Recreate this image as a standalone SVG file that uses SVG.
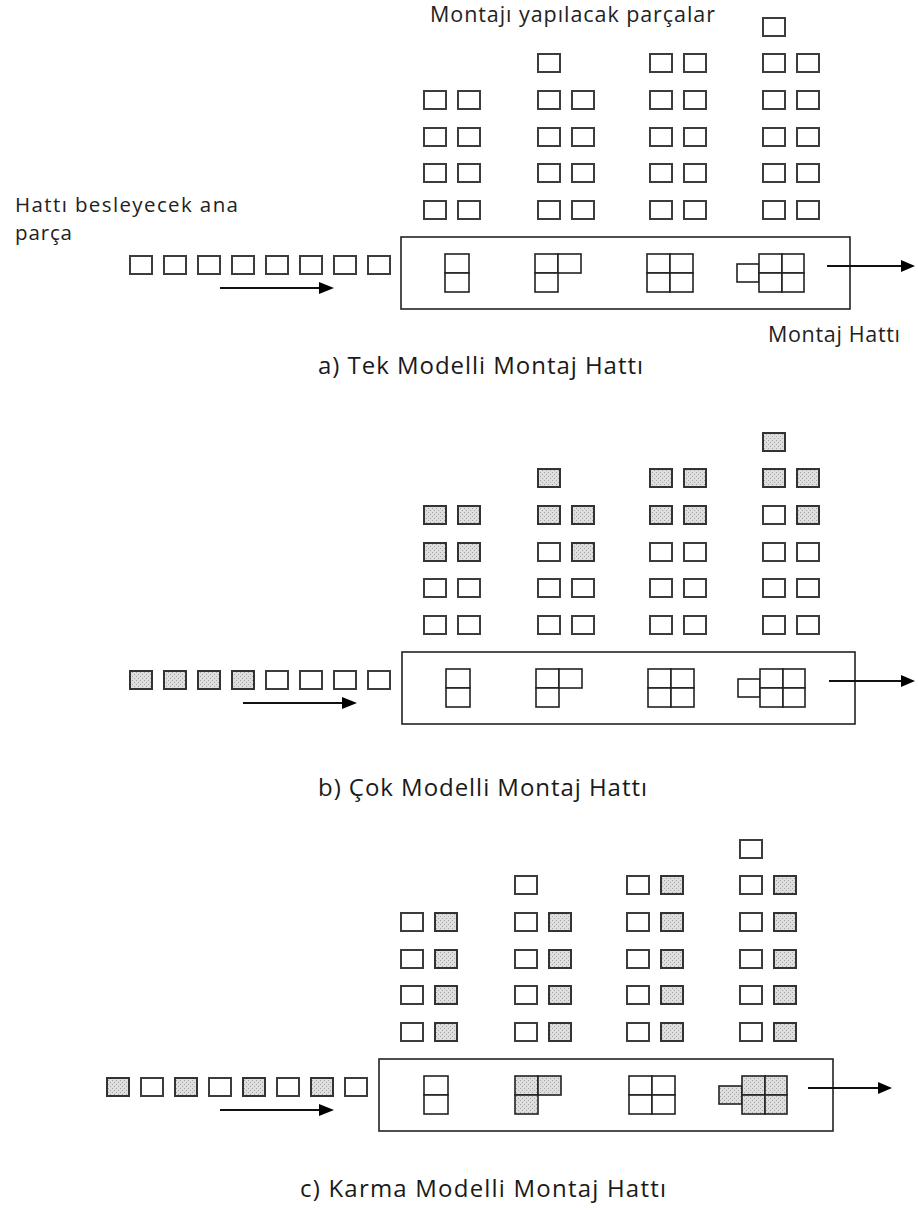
<svg xmlns="http://www.w3.org/2000/svg" width="918" height="1211" viewBox="0 0 918 1211">
<defs>
<pattern id="dots" width="4" height="4" patternUnits="userSpaceOnUse">
<rect width="4" height="4" fill="#dedede"/>
<rect x="0" y="0" width="1" height="1" fill="#a6a6a6"/>
<rect x="2" y="2" width="1" height="1" fill="#a6a6a6"/>
</pattern>
<style>
.w{fill:#fff;stroke:#3c3c3c;stroke-width:2}
.g{fill:url(#dots);stroke:#333;stroke-width:2}
.sw{fill:#fff;stroke:#222;stroke-width:1.6}
.sg{fill:url(#dots);stroke:#222;stroke-width:1.6}
.box{fill:none;stroke:#222;stroke-width:1.6}
.ln{stroke:#111;stroke-width:2;fill:none}
.hd{fill:#000}
.lbl{font-family:"Open Sans","DejaVu Sans",sans-serif;font-size:21.5px;fill:#222}
.lbl2{font-family:"Open Sans","DejaVu Sans",sans-serif;font-size:20.5px;fill:#222}
.cap{font-family:"Open Sans","DejaVu Sans",sans-serif;font-size:24px;fill:#1a1a1a}
</style>
</defs>
<rect width="918" height="1211" fill="#fff"/>

<!-- ===== Section a ===== -->
<g id="a-parts">
<g id="a-col1">
<rect class="w" x="424" y="201" width="22" height="18"/><rect class="w" x="458" y="201" width="22" height="18"/>
<rect class="w" x="424" y="164" width="22" height="18"/><rect class="w" x="458" y="164" width="22" height="18"/>
<rect class="w" x="424" y="128" width="22" height="18"/><rect class="w" x="458" y="128" width="22" height="18"/>
<rect class="w" x="424" y="91" width="22" height="18"/><rect class="w" x="458" y="91" width="22" height="18"/>
</g>
<g id="a-col2">
<rect class="w" x="538" y="201" width="22" height="18"/><rect class="w" x="572" y="201" width="22" height="18"/>
<rect class="w" x="538" y="164" width="22" height="18"/><rect class="w" x="572" y="164" width="22" height="18"/>
<rect class="w" x="538" y="128" width="22" height="18"/><rect class="w" x="572" y="128" width="22" height="18"/>
<rect class="w" x="538" y="91" width="22" height="18"/><rect class="w" x="572" y="91" width="22" height="18"/>
<rect class="w" x="538" y="54" width="22" height="18"/>
</g>
<g id="a-col3">
<rect class="w" x="650" y="201" width="22" height="18"/><rect class="w" x="684" y="201" width="22" height="18"/>
<rect class="w" x="650" y="164" width="22" height="18"/><rect class="w" x="684" y="164" width="22" height="18"/>
<rect class="w" x="650" y="128" width="22" height="18"/><rect class="w" x="684" y="128" width="22" height="18"/>
<rect class="w" x="650" y="91" width="22" height="18"/><rect class="w" x="684" y="91" width="22" height="18"/>
<rect class="w" x="650" y="54" width="22" height="18"/><rect class="w" x="684" y="54" width="22" height="18"/>
</g>
<g id="a-col4">
<rect class="w" x="763" y="201" width="22" height="18"/><rect class="w" x="797" y="201" width="22" height="18"/>
<rect class="w" x="763" y="164" width="22" height="18"/><rect class="w" x="797" y="164" width="22" height="18"/>
<rect class="w" x="763" y="128" width="22" height="18"/><rect class="w" x="797" y="128" width="22" height="18"/>
<rect class="w" x="763" y="91" width="22" height="18"/><rect class="w" x="797" y="91" width="22" height="18"/>
<rect class="w" x="763" y="54" width="22" height="18"/><rect class="w" x="797" y="54" width="22" height="18"/>
<rect class="w" x="763" y="18" width="22" height="18"/>
</g>
</g>
<g id="a-feed">
<rect class="w" x="130" y="256" width="22" height="18"/><rect class="w" x="164" y="256" width="22" height="18"/>
<rect class="w" x="198" y="256" width="22" height="18"/><rect class="w" x="232" y="256" width="22" height="18"/>
<rect class="w" x="266" y="256" width="22" height="18"/><rect class="w" x="300" y="256" width="22" height="18"/>
<rect class="w" x="334" y="256" width="22" height="18"/><rect class="w" x="368" y="256" width="22" height="18"/>
</g>
<g id="a-line">
<rect class="box" x="401" y="237" width="449" height="72"/>
<g id="a-s1"><rect class="sw" x="445" y="254" width="24" height="19"/><rect class="sw" x="445" y="273" width="24" height="19"/></g>
<g id="a-s2"><rect class="sw" x="535" y="254" width="23" height="19"/><rect class="sw" x="558" y="254" width="23" height="19"/><rect class="sw" x="535" y="273" width="23" height="19"/></g>
<g id="a-s3"><rect class="sw" x="647" y="254" width="23" height="19"/><rect class="sw" x="670" y="254" width="23" height="19"/><rect class="sw" x="647" y="273" width="23" height="19"/><rect class="sw" x="670" y="273" width="23" height="19"/></g>
<g id="a-s4"><rect class="sw" x="737" y="264" width="22" height="18"/><rect class="sw" x="759" y="254" width="23" height="19"/><rect class="sw" x="782" y="254" width="22" height="19"/><rect class="sw" x="759" y="273" width="23" height="19"/><rect class="sw" x="782" y="273" width="22" height="19"/></g>
</g>
<g id="a-labels">
<text class="lbl" x="430" y="22" textLength="285">Montajı yapılacak parçalar</text>
<text class="lbl2"><tspan x="15" y="212" textLength="223">Hattı besleyecek ana</tspan><tspan x="15" y="240" textLength="57">parça</tspan></text>
<text class="lbl" x="768" y="342" textLength="132">Montaj Hattı</text>
<text class="cap" x="318" y="374" textLength="325">a) Tek Modelli Montaj Hattı</text>
</g>

<!-- ===== Section b ===== -->
<g id="b-parts">
<g id="b-col1">
<rect class="w" x="424" y="616" width="22" height="18"/><rect class="w" x="458" y="616" width="22" height="18"/>
<rect class="w" x="424" y="579" width="22" height="18"/><rect class="w" x="458" y="579" width="22" height="18"/>
<rect class="g" x="424" y="543" width="22" height="18"/><rect class="g" x="458" y="543" width="22" height="18"/>
<rect class="g" x="424" y="506" width="22" height="18"/><rect class="g" x="458" y="506" width="22" height="18"/>
</g>
<g id="b-col2">
<rect class="w" x="538" y="616" width="22" height="18"/><rect class="w" x="572" y="616" width="22" height="18"/>
<rect class="w" x="538" y="579" width="22" height="18"/><rect class="w" x="572" y="579" width="22" height="18"/>
<rect class="w" x="538" y="543" width="22" height="18"/><rect class="g" x="572" y="543" width="22" height="18"/>
<rect class="g" x="538" y="506" width="22" height="18"/><rect class="g" x="572" y="506" width="22" height="18"/>
<rect class="g" x="538" y="469" width="22" height="18"/>
</g>
<g id="b-col3">
<rect class="w" x="650" y="616" width="22" height="18"/><rect class="w" x="684" y="616" width="22" height="18"/>
<rect class="w" x="650" y="579" width="22" height="18"/><rect class="w" x="684" y="579" width="22" height="18"/>
<rect class="w" x="650" y="543" width="22" height="18"/><rect class="w" x="684" y="543" width="22" height="18"/>
<rect class="g" x="650" y="506" width="22" height="18"/><rect class="g" x="684" y="506" width="22" height="18"/>
<rect class="g" x="650" y="469" width="22" height="18"/><rect class="g" x="684" y="469" width="22" height="18"/>
</g>
<g id="b-col4">
<rect class="w" x="763" y="616" width="22" height="18"/><rect class="w" x="797" y="616" width="22" height="18"/>
<rect class="w" x="763" y="579" width="22" height="18"/><rect class="w" x="797" y="579" width="22" height="18"/>
<rect class="w" x="763" y="543" width="22" height="18"/><rect class="w" x="797" y="543" width="22" height="18"/>
<rect class="w" x="763" y="506" width="22" height="18"/><rect class="g" x="797" y="506" width="22" height="18"/>
<rect class="g" x="763" y="469" width="22" height="18"/><rect class="g" x="797" y="469" width="22" height="18"/>
<rect class="g" x="763" y="433" width="22" height="18"/>
</g>
</g>
<g id="b-feed">
<rect class="g" x="130" y="671" width="22" height="18"/><rect class="g" x="164" y="671" width="22" height="18"/>
<rect class="g" x="198" y="671" width="22" height="18"/><rect class="g" x="232" y="671" width="22" height="18"/>
<rect class="w" x="266" y="671" width="22" height="18"/><rect class="w" x="300" y="671" width="22" height="18"/>
<rect class="w" x="334" y="671" width="22" height="18"/><rect class="w" x="368" y="671" width="22" height="18"/>
</g>
<g id="b-line">
<rect class="box" x="402" y="652" width="453" height="72"/>
<g id="b-s1"><rect class="sw" x="446" y="669" width="24" height="19"/><rect class="sw" x="446" y="688" width="24" height="19"/></g>
<g id="b-s2"><rect class="sw" x="536" y="669" width="23" height="19"/><rect class="sw" x="559" y="669" width="23" height="19"/><rect class="sw" x="536" y="688" width="23" height="19"/></g>
<g id="b-s3"><rect class="sw" x="648" y="669" width="23" height="19"/><rect class="sw" x="671" y="669" width="23" height="19"/><rect class="sw" x="648" y="688" width="23" height="19"/><rect class="sw" x="671" y="688" width="23" height="19"/></g>
<g id="b-s4"><rect class="sw" x="738" y="679" width="22" height="18"/><rect class="sw" x="760" y="669" width="23" height="19"/><rect class="sw" x="783" y="669" width="22" height="19"/><rect class="sw" x="760" y="688" width="23" height="19"/><rect class="sw" x="783" y="688" width="22" height="19"/></g>
</g>
<g id="b-labels">
<text class="cap" x="318" y="796" textLength="329">b) Çok Modelli Montaj Hattı</text>
</g>

<!-- ===== Section c ===== -->
<g id="c-parts">
<g id="c-col1">
<rect class="w" x="401" y="1023" width="22" height="18"/><rect class="g" x="435" y="1023" width="22" height="18"/>
<rect class="w" x="401" y="986" width="22" height="18"/><rect class="g" x="435" y="986" width="22" height="18"/>
<rect class="w" x="401" y="950" width="22" height="18"/><rect class="g" x="435" y="950" width="22" height="18"/>
<rect class="w" x="401" y="913" width="22" height="18"/><rect class="g" x="435" y="913" width="22" height="18"/>
</g>
<g id="c-col2">
<rect class="w" x="515" y="1023" width="22" height="18"/><rect class="g" x="549" y="1023" width="22" height="18"/>
<rect class="w" x="515" y="986" width="22" height="18"/><rect class="g" x="549" y="986" width="22" height="18"/>
<rect class="w" x="515" y="950" width="22" height="18"/><rect class="g" x="549" y="950" width="22" height="18"/>
<rect class="w" x="515" y="913" width="22" height="18"/><rect class="g" x="549" y="913" width="22" height="18"/>
<rect class="w" x="515" y="876" width="22" height="18"/>
</g>
<g id="c-col3">
<rect class="w" x="627" y="1023" width="22" height="18"/><rect class="g" x="661" y="1023" width="22" height="18"/>
<rect class="w" x="627" y="986" width="22" height="18"/><rect class="g" x="661" y="986" width="22" height="18"/>
<rect class="w" x="627" y="950" width="22" height="18"/><rect class="g" x="661" y="950" width="22" height="18"/>
<rect class="w" x="627" y="913" width="22" height="18"/><rect class="g" x="661" y="913" width="22" height="18"/>
<rect class="w" x="627" y="876" width="22" height="18"/><rect class="g" x="661" y="876" width="22" height="18"/>
</g>
<g id="c-col4">
<rect class="w" x="740" y="1023" width="22" height="18"/><rect class="g" x="774" y="1023" width="22" height="18"/>
<rect class="w" x="740" y="986" width="22" height="18"/><rect class="g" x="774" y="986" width="22" height="18"/>
<rect class="w" x="740" y="950" width="22" height="18"/><rect class="g" x="774" y="950" width="22" height="18"/>
<rect class="w" x="740" y="913" width="22" height="18"/><rect class="g" x="774" y="913" width="22" height="18"/>
<rect class="w" x="740" y="876" width="22" height="18"/><rect class="g" x="774" y="876" width="22" height="18"/>
<rect class="w" x="740" y="840" width="22" height="18"/>
</g>
</g>
<g id="c-feed">
<rect class="g" x="107" y="1078" width="22" height="18"/><rect class="w" x="141" y="1078" width="22" height="18"/>
<rect class="g" x="175" y="1078" width="22" height="18"/><rect class="w" x="209" y="1078" width="22" height="18"/>
<rect class="g" x="243" y="1078" width="22" height="18"/><rect class="w" x="277" y="1078" width="22" height="18"/>
<rect class="g" x="311" y="1078" width="22" height="18"/><rect class="w" x="345" y="1078" width="22" height="18"/>
</g>
<g id="c-line">
<rect class="box" x="379" y="1059" width="454" height="72"/>
<g id="c-s1"><rect class="sw" x="424" y="1076" width="24" height="19"/><rect class="sw" x="424" y="1095" width="24" height="19"/></g>
<g id="c-s2"><rect class="sg" x="515" y="1076" width="23" height="19"/><rect class="sg" x="538" y="1076" width="23" height="19"/><rect class="sg" x="515" y="1095" width="23" height="19"/></g>
<g id="c-s3"><rect class="sw" x="629" y="1076" width="23" height="19"/><rect class="sw" x="652" y="1076" width="23" height="19"/><rect class="sw" x="629" y="1095" width="23" height="19"/><rect class="sw" x="652" y="1095" width="23" height="19"/></g>
<g id="c-s4"><rect class="sg" x="719" y="1086" width="23" height="18"/><rect class="sg" x="742" y="1076" width="23" height="19"/><rect class="sg" x="765" y="1076" width="22" height="19"/><rect class="sg" x="742" y="1095" width="23" height="19"/><rect class="sg" x="765" y="1095" width="22" height="19"/></g>
</g>
<g id="c-labels">
<text class="cap" x="300" y="1197" textLength="366">c) Karma Modelli Montaj Hattı</text>
</g>

<!-- ===== Connectors ===== -->
<g id="connectors">
<line class="ln" x1="220" y1="288" x2="321" y2="288"/><polygon class="hd" points="319,282 334,288 319,294"/>
<line class="ln" x1="827" y1="266" x2="903" y2="266"/><polygon class="hd" points="901,260 915,266 901,272"/>
<line class="ln" x1="243" y1="703" x2="344" y2="703"/><polygon class="hd" points="342,697 357,703 342,709"/>
<line class="ln" x1="829" y1="681" x2="903" y2="681"/><polygon class="hd" points="901,675 915,681 901,687"/>
<line class="ln" x1="220" y1="1110" x2="321" y2="1110"/><polygon class="hd" points="319,1104 334,1110 319,1116"/>
<line class="ln" x1="808" y1="1088" x2="880" y2="1088"/><polygon class="hd" points="878,1082 892,1088 878,1094"/>
</g>
</svg>
